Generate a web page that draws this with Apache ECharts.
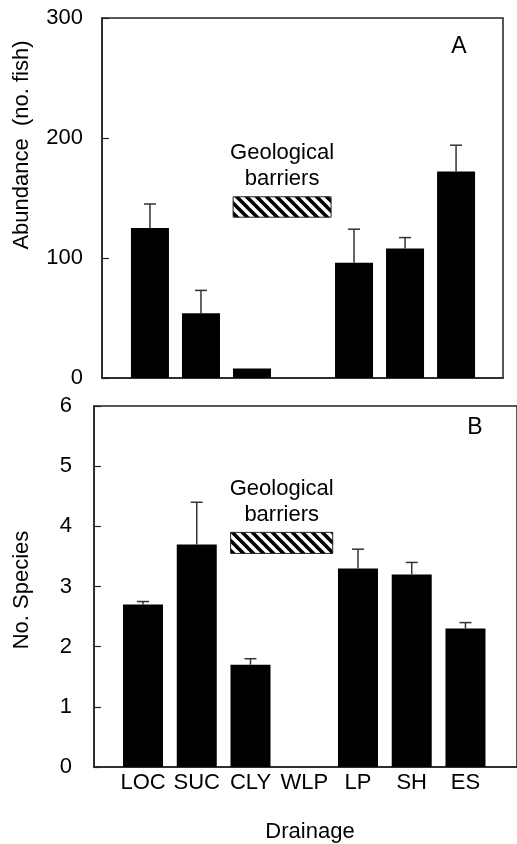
<!DOCTYPE html>
<html>
<head>
<meta charset="utf-8">
<script src="https://cdn.jsdelivr.net/npm/echarts@6/dist/echarts.min.js"></script>
<style>
html, body { margin: 0; padding: 0; background: #fff; }
#main { width: 517px; height: 844px; }
</style>
</head>
<body>
<div id="main"></div>
<script>
// 数据
var categories = ['LOC', 'SUC', 'CLY', 'WLP', 'LP', 'SH', 'ES'];
var abundance = [125, 54, 8, null, 96, 108, 172];
var abundanceErr = [145, 73, null, null, 124, 117, 194];
var species = [2.7, 3.7, 1.7, null, 3.3, 3.2, 2.3];
var speciesErr = [2.75, 4.4, 1.8, null, 3.62, 3.4, 2.4];
// 地质屏障所在的区间 (x 起止, y 上下)
var barrierA = [1.63, 3.55, 151, 134];
var barrierB = [1.63, 3.53, 3.9, 3.55];

var font = 'Liberation Sans, Arial, sans-serif';

// 斜线填充
function hatch() {
	var size = 10;
	var c = document.createElement('canvas');
	c.width = size;
	c.height = size;
	var ctx = c.getContext('2d');
	ctx.fillStyle = '#fff';
	ctx.fillRect(0, 0, size, size);
	ctx.strokeStyle = '#000';
	ctx.lineWidth = 3.6;
	for (var k = -1; k <= 1; k++) {
		ctx.beginPath();
		ctx.moveTo(-2, -2 + k * size);
		ctx.lineTo(size + 2, size + 2 + k * size);
		ctx.stroke();
	}
	return c;
}
var pattern = { image: hatch(), repeat: 'repeat' };

function pairs(arr) {
	var out = [];
	arr.forEach(function (v, i) {
		if (v != null) out.push([i, v]);
	});
	return out;
}
function errData(vals, errs) {
	var out = [];
	vals.forEach(function (v, i) {
		if (v != null && errs[i] != null) out.push([i, v, errs[i]]);
	});
	return out;
}

function errRender(params, api) {
	var base = api.coord([api.value(0), api.value(1)]);
	var top = api.coord([api.value(0), api.value(2)]);
	var half = 6;
	var st = { stroke: '#333', lineWidth: 1.5 };
	return {
		type: 'group',
		children: [
			{ type: 'line', shape: { x1: base[0], y1: base[1], x2: top[0], y2: top[1] }, style: st },
			{ type: 'line', shape: { x1: top[0] - half, y1: top[1], x2: top[0] + half, y2: top[1] }, style: st }
		]
	};
}

function barrierArea(b) {
	return {
		silent: true,
		itemStyle: { color: pattern, borderColor: '#222', borderWidth: 1 },
		label: {
			show: true,
			position: 'top',
			distance: 4,
			formatter: 'Geological\nbarriers',
			fontFamily: font,
			fontSize: 22,
			lineHeight: 26,
			color: '#000'
		},
		data: [[{ coord: [b[0], b[2]] }, { coord: [b[1], b[3]] }]]
	};
}

var myChart = echarts.init(document.getElementById('main'));

var yLabel = { fontFamily: font, fontSize: 22, color: '#000' };
var axisLine = { show: true, onZero: false, lineStyle: { color: '#222', width: 1.5 } };

var option = {
	backgroundColor: '#fff',
	animation: false,
	grid: [
		{ left: 102, top: 18, width: 401, height: 360, show: true, borderColor: '#222', borderWidth: 1.5 },
		{ left: 94, top: 406, width: 427, height: 361, show: true, borderColor: '#222', borderWidth: 1.5 }
	],
	xAxis: [
		{
			type: 'value', gridIndex: 0, min: -0.94, max: 6.92,
			axisLine: axisLine, axisTick: { show: false }, splitLine: { show: false },
			axisLabel: { show: false }
		},
		{
			type: 'value', gridIndex: 1, min: -0.912, max: 6.959,
			axisLine: axisLine, axisTick: { show: false }, splitLine: { show: false },
			axisLabel: {
				show: true,
				customValues: [0, 1, 2, 3, 4, 5, 6],
				formatter: function (v) { return categories[Math.round(v)]; },
				fontFamily: font, fontSize: 22, color: '#000', margin: 5
			}
		}
	],
	yAxis: [
		{
			type: 'value', gridIndex: 0, min: 0, max: 300, interval: 100,
			axisLine: axisLine, splitLine: { show: false },
			axisTick: { show: true, inside: true, length: 7, lineStyle: { color: '#222', width: 1.2 } },
			axisLabel: Object.assign({ margin: 19 }, yLabel)
		},
		{
			type: 'value', gridIndex: 1, min: 0, max: 6, interval: 1,
			axisLine: axisLine, splitLine: { show: false },
			axisTick: { show: true, inside: true, length: 7, lineStyle: { color: '#222', width: 1.2 } },
			axisLabel: Object.assign({ margin: 22 }, yLabel)
		}
	],
	series: [
		{
			type: 'bar', xAxisIndex: 0, yAxisIndex: 0, barWidth: 38,
			itemStyle: { color: '#000' },
			data: pairs(abundance),
			markArea: barrierArea(barrierA)
		},
		{
			type: 'custom', xAxisIndex: 0, yAxisIndex: 0,
			renderItem: errRender, data: errData(abundance, abundanceErr), z: 3
		},
		{
			type: 'bar', xAxisIndex: 1, yAxisIndex: 1, barWidth: 40,
			itemStyle: { color: '#000' },
			data: pairs(species),
			markArea: barrierArea(barrierB)
		},
		{
			type: 'custom', xAxisIndex: 1, yAxisIndex: 1,
			renderItem: errRender, data: errData(species, speciesErr), z: 3
		}
	],
	graphic: [
		{
			type: 'text', x: 22, y: 145, rotation: Math.PI / 2,
			style: { text: 'Abundance  (no. fish)', fontFamily: font, fontSize: 22, fill: '#000', align: 'center', verticalAlign: 'middle' }
		},
		{
			type: 'text', x: 22, y: 590, rotation: Math.PI / 2,
			style: { text: 'No. Species', fontFamily: font, fontSize: 22, fill: '#000', align: 'center', verticalAlign: 'middle' }
		},
		{
			type: 'text', x: 310, y: 832,
			style: { text: 'Drainage', fontFamily: font, fontSize: 22, fill: '#000', align: 'center', verticalAlign: 'middle' }
		},
		{
			type: 'text', x: 459, y: 47,
			style: { text: 'A', fontFamily: font, fontSize: 23, fill: '#000', align: 'center', verticalAlign: 'middle' }
		},
		{
			type: 'text', x: 475, y: 428,
			style: { text: 'B', fontFamily: font, fontSize: 23, fill: '#000', align: 'center', verticalAlign: 'middle' }
		}
	]
};

myChart.setOption(option);
</script>
</body>
</html>
